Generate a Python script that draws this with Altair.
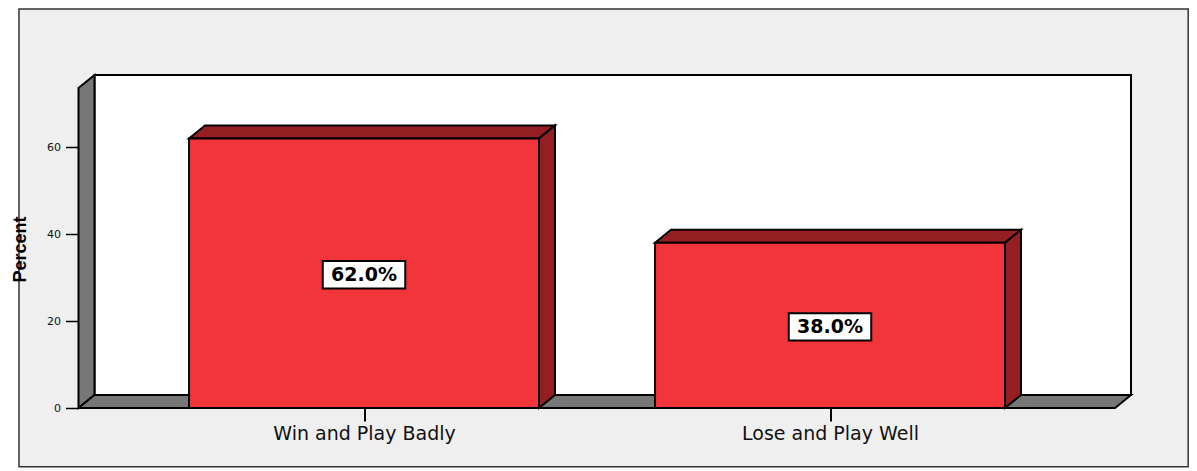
import altair as alt
import pandas as pd

categories = ["Win and Play Badly", "Lose and Play Well"]
values = [62.0, 38.0]
labels = ["62.0%", "38.0%"]
y_ticks = [0, 20, 40, 60]

first_center = 0.6127
bar_width = 0.751
depth_x = 0.0343
depth_y = 3.0
floor_width = 2.2243
wall_height = 73.6
y_top = wall_height + depth_y
x_top = floor_width + depth_x
centers = [first_center + i for i in range(len(categories))]

RED, DARK, GRAY, PANEL, INK = "#f2343b", "#951e22", "#777777", "#efefef", "#000000"

faces = []
def face(name, fill, pts):
    for x, y, y2 in pts:
        faces.append(dict(shape=name, fill=fill, x=x, y=y, y2=y2))

face("wall", GRAY, [(0, 0, wall_height), (depth_x, depth_y, y_top)])
face("floor", GRAY, [(0, 0, 0), (depth_x, depth_y, 0), (floor_width, depth_y, 0), (x_top, depth_y, depth_y)])
for i, (c, v) in enumerate(zip(centers, values)):
    x0, x1 = c - bar_width / 2, c + bar_width / 2
    face(f"top{i}", DARK, [(x0, v, v), (x0 + depth_x, v + depth_y, v), (x1, v + depth_y, v), (x1 + depth_x, v + depth_y, v + depth_y)])
    face(f"side{i}", DARK, [(x1, 0, v), (x1 + depth_x, depth_y, v + depth_y)])
faces = pd.DataFrame(faces)

bars = pd.DataFrame({
    "x": [c - bar_width / 2 for c in centers],
    "x2": [c + bar_width / 2 for c in centers],
    "y": [0] * len(values),
    "y2": values,
})
boxes = pd.DataFrame({
    "x": [c - 0.0885 for c in centers],
    "x2": [c + 0.0885 for c in centers],
    "y": [v / 2 - 3.5 for v in values],
    "y2": [v / 2 + 2.8 for v in values],
    "cx": centers,
    "cy": [v / 2 - 0.35 for v in values],
    "text": labels,
})

xs = alt.Scale(domain=[0, 1052.5 / 466], nice=False, zero=False)
ys = alt.Scale(domain=[0, y_top], nice=False, zero=False)

label_expr = "datum.value < 1 ? '%s' : '%s'" % tuple(categories)

xa = alt.Axis(
    values=centers, labelExpr=label_expr, domain=False, grid=False, title=None, zindex=1,
    tickSize=13, tickWidth=2, tickColor=INK, labelFont="DejaVu Sans", labelFontSize=19,
    labelColor="#111111", labelPadding=3, labelLimit=400)
ya = alt.Axis(
    values=y_ticks, domain=False, grid=False, title="Percent", zindex=1, tickSize=13, tickWidth=1.5, tickColor=INK,
    labelFont="DejaVu Sans", labelFontSize=11, labelColor="#111111", labelPadding=5,
    titleFont="Liberation Sans", titleFontWeight="bold", titleFontSize=18,
    titleColor=INK, titleX=-53, titleY=174, titleBaseline="alphabetic")

def X(f="x:Q"):
    return alt.X(f, scale=xs, axis=xa)
def Y(f="y:Q"):
    return alt.Y(f, scale=ys, axis=ya)

frame = alt.Chart(pd.DataFrame({"x": [-0.1277], "x2": [2.3813], "y": [-13.5], "y2": [91.8]})).mark_rect(
    fill=PANEL, stroke="#333333", strokeWidth=1.5
).encode(x=X(), x2="x2:Q", y=Y(), y2="y2:Q")

back = alt.Chart(pd.DataFrame({"x": [depth_x], "x2": [x_top], "y": [depth_y], "y2": [y_top]})).mark_rect(
    fill="white", stroke=INK, strokeWidth=2
).encode(x=X(), x2="x2:Q", y=Y(), y2="y2:Q")

areas = alt.Chart(faces).mark_area(stroke=INK, strokeWidth=2, strokeJoin="miter").encode(
    x=X(), y=Y(), y2="y2:Q", detail="shape:N", fill=alt.Fill("fill:N", scale=None),
)

fronts = alt.Chart(bars).mark_rect(fill=RED, stroke=INK, strokeWidth=2).encode(
    x=X(), x2="x2:Q", y=Y(), y2="y2:Q",
)

box = alt.Chart(boxes).mark_rect(fill="white", stroke=INK, strokeWidth=2).encode(
    x=X(), x2="x2:Q", y=Y(), y2="y2:Q",
)
text = alt.Chart(boxes).mark_text(font="DejaVu Sans", fontWeight="bold", fontSize=19, color=INK).encode(
    x=X("cx:Q"), y=Y("cy:Q"), text="text:N",
)

chart = alt.layer(frame, back, areas, fronts, box, text).properties(
    width=1052.5, height=333,
    padding={"left": 70.5, "top": 67, "right": 58, "bottom": 60},
    autosize=alt.AutoSizeParams(type="none"),
    background="white",
).configure_view(stroke=None)

chart.save("out.html", embed_options={"renderer": "svg", "actions": False})
